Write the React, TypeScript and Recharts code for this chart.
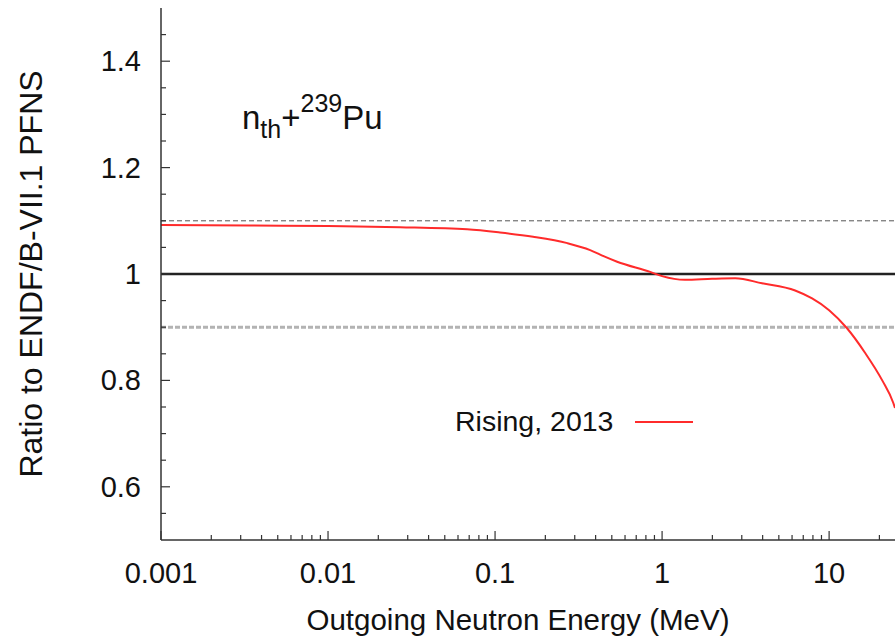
import React from 'react';
import { LineChart, Line, XAxis, YAxis, ReferenceLine, Legend } from 'recharts';

// Rising 2013 ratio to ENDF/B-VII.1 PFNS, n_th + 239Pu
const energies = [
  0.001, 0.0034, 0.01, 0.027, 0.068, 0.107, 0.169, 0.271, 0.371, 0.45, 0.538, 0.848, 1.0, 1.37, 1.99,
  2.74, 3.97, 6.26, 7.91, 10, 12.8, 16.4, 20.8, 24.2, 24.8,
];
const ratios = [
  1.092, 1.091, 1.09, 1.088, 1.084, 1.078, 1.07, 1.058, 1.045, 1.033, 1.023, 1.004, 0.996, 0.989, 0.991,
  0.992, 0.9825, 0.969, 0.954, 0.932, 0.898, 0.852, 0.8, 0.758, 0.748,
];
const seriesName = 'Rising, 2013';

const xMajorTicks = [0.001, 0.01, 0.1, 1, 10];
const xTickLabels = ['0.001', '0.01', '0.1', '1', '10'];
const xMinorFactors = [2, 3, 4, 5, 6, 7, 8, 9];
const yMajorTicks = [0.6, 0.8, 1, 1.2, 1.4];
const yTickLabels = ['0.6', '0.8', '1', '1.2', '1.4'];
const yMinorTicks = [0.55, 0.65, 0.7, 0.75, 0.85, 0.9, 0.95, 1.05, 1.1, 1.15, 1.25, 1.3, 1.35, 1.45];

const X_MAX = 24.8;
const FONT = '"Liberation Sans", Arial, Helvetica, sans-serif';
const AXIS = '#333';

const xMinorTicks = xMajorTicks
  .flatMap((d) => xMinorFactors.map((f) => +(d * f).toPrecision(3)))
  .filter((v) => v <= X_MAX);
const xAllTicks = [...xMajorTicks, ...xMinorTicks].sort((a, b) => a - b);
const yAllTicks = [...yMajorTicks, ...yMinorTicks].sort((a, b) => a - b);

const data = energies.map((e, i) => ({ e, r: ratios[i] }));

function BottomTick(props: any) {
  const { x, y, payload } = props;
  const i = xMajorTicks.indexOf(payload.value);
  const major = i >= 0;
  return (
    <g>
      <line x1={x} x2={x} y1={y} y2={y - (major ? 9 : 5)} stroke={AXIS} strokeWidth={1.2} />
      {major && (
        <text x={x} y={y + 43} textAnchor="middle" fontSize={29} fontFamily={FONT} fill="#111">
          {xTickLabels[i]}
        </text>
      )}
    </g>
  );
}

function TopTick(props: any) {
  const { x, y, payload } = props;
  const major = xMajorTicks.includes(payload.value);
  return <line x1={x} x2={x} y1={y} y2={y + (major ? 9 : 5)} stroke={AXIS} strokeWidth={1.2} />;
}

function LeftTick(props: any) {
  const { x, y, payload } = props;
  const i = yMajorTicks.indexOf(payload.value);
  const major = i >= 0;
  return (
    <g>
      <line x1={x} x2={x + (major ? 9 : 5)} y1={y} y2={y} stroke={AXIS} strokeWidth={1.2} />
      {major && (
        <text x={x - 20} y={y + 10} textAnchor="end" fontSize={29} fontFamily={FONT} fill="#111">
          {yTickLabels[i]}
        </text>
      )}
    </g>
  );
}

function LegendContent(props: any) {
  const item = props.payload?.[0];
  if (!item) return null;
  return (
    <div style={{ display: 'flex', alignItems: 'center', fontFamily: FONT, fontSize: 28.5, color: '#111' }}>
      <span>{item.value}</span>
      <svg width={80} height={10} style={{ marginLeft: 20 }}>
        <line x1={2} x2={60} y1={5} y2={5} stroke={item.color} strokeWidth={2} />
      </svg>
    </div>
  );
}

export default function App() {
  return (
    <div style={{ position: 'absolute', left: 0, top: 0, width: 895, height: 638, background: '#fff' }}>
      <LineChart width={895} height={638} data={data} margin={{ top: 8, right: 0, bottom: 0, left: 0 }}>
        <XAxis
          dataKey="e"
          type="number"
          scale="log"
          domain={[0.001, X_MAX]}
          allowDataOverflow
          ticks={xAllTicks}
          interval={0}
          tick={<BottomTick />}
          tickLine={false}
          tickSize={0}
          tickMargin={0}
          height={98}
          axisLine={{ stroke: AXIS, strokeWidth: 1.5 }}
          label={{
            content: () => (
              <text x={518} y={630} textAnchor="middle" fontSize={29.5} fontFamily={FONT} fill="#111">
                Outgoing Neutron Energy (MeV)
              </text>
            ),
          }}
        />
        <XAxis
          xAxisId="top"
          orientation="top"
          dataKey="e"
          type="number"
          scale="log"
          domain={[0.001, X_MAX]}
          allowDataOverflow
          ticks={xAllTicks}
          interval={0}
          tick={<TopTick />}
          tickLine={false}
          tickSize={0}
          tickMargin={0}
          height={0}
          axisLine={{ stroke: AXIS, strokeWidth: 1.5 }}
        />
        <YAxis
          type="number"
          domain={[0.5, 1.5]}
          allowDataOverflow
          ticks={yAllTicks}
          interval={0}
          tick={<LeftTick />}
          tickLine={false}
          tickSize={0}
          tickMargin={0}
          width={161}
          axisLine={{ stroke: AXIS, strokeWidth: 1.5 }}
          label={{
            content: () => (
              <text
                x={42}
                y={274}
                transform="rotate(-90 42 274)"
                textAnchor="middle"
                fontSize={32}
                fontFamily={FONT}
                fill="#111"
              >
                Ratio to ENDF/B-VII.1 PFNS
              </text>
            ),
          }}
        />
        <ReferenceLine y={1.1} stroke="#555" strokeWidth={1} strokeDasharray="5 3" />
        <ReferenceLine y={0.9} stroke="#b3b3b3" strokeWidth={3} strokeDasharray="5 2" />
        <ReferenceLine y={1} stroke="#222" strokeWidth={2.5} />
        <Line
          type="monotone"
          dataKey="r"
          name={seriesName}
          stroke="#ff2b2b"
          strokeWidth={2}
          dot={false}
          isAnimationActive={false}
        />
        <Legend
          layout="horizontal"
          verticalAlign="middle"
          align="center"
          content={<LegendContent />}
          wrapperStyle={{ position: 'absolute', left: 455, top: 405, width: 'auto' }}
        />
      </LineChart>
      <svg
        width={895}
        height={638}
        style={{ position: 'absolute', left: 0, top: 0, pointerEvents: 'none' }}
      >
        <text x={242} y={129} fontSize={33} fontFamily={FONT} fill="#111">
          n
          <tspan fontSize={25} dy={9}>th</tspan>
          <tspan fontSize={33} dy={-9}>+</tspan>
          <tspan fontSize={25} dy={-17}>239</tspan>
          <tspan fontSize={33} dy={17}>Pu</tspan>
        </text>
      </svg>
    </div>
  );
}
